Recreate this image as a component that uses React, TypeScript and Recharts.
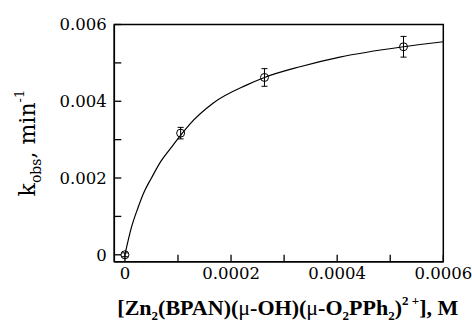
import React from 'react';
import { ComposedChart, Line, Scatter, ErrorBar, XAxis, YAxis, ReferenceArea, Label } from 'recharts';

const pointX = [0, 0.000105, 0.000263, 0.000525];
const pointY = [0, 0.00317, 0.00462, 0.00542];
const pointErr = [0.00005, 0.00015, 0.00023, 0.00027];

const curveX = [0, 0.000012, 0.0000245, 0.000037, 0.00005, 0.000068, 0.000087, 0.000106, 0.000122, 0.000166, 0.000229, 0.000263, 0.00033, 0.000405, 0.000525, 0.0006];
const curveY = [0, 0.0007, 0.00122, 0.00166, 0.002, 0.00244, 0.00279, 0.00313, 0.0034, 0.00395, 0.00442, 0.00462, 0.0049, 0.00515, 0.00542, 0.00555];

const xTicks = [0, 0.0001, 0.0002, 0.0003, 0.0004, 0.0005, 0.0006];
const xTickLabels = ['0', '', '0.0002', '', '0.0004', '', '0.0006'];
const yTicks = [0, 0.001, 0.002, 0.003, 0.004, 0.005, 0.006];
const yTickLabels = ['0', '', '0.002', '', '0.004', '', '0.006'];

const points = pointX.map((x, i) => ({ x, y: pointY[i], err: pointErr[i] }));
const curve = curveX.map((x, i) => ({ x, y: curveY[i] }));

const X_DOMAIN: [number, number] = [-0.00002, 0.0006];
const Y_DOMAIN: [number, number] = [-0.00018, 0.006];

const tickFont = { fontFamily: 'DejaVu Serif', fontSize: 16.5, fill: '#000' };

const XTitle = (props: any) => {
  const vb = props.viewBox || { x: 0, y: 0, width: 0, height: 0 };
  const cx = vb.x + vb.width / 2 + 9;
  const cy = vb.y + 53;
  const main = 22;
  const small = 13;
  return (
    <text x={cx} y={cy} textAnchor="middle" fontFamily="Liberation Serif" fontWeight="bold" fontSize={main} fill="#000">
      <tspan>[Zn</tspan>
      <tspan fontSize={small} dy={5}>2</tspan>
      <tspan dy={-5}>(BPAN)(</tspan>
      <tspan fontWeight="normal">μ</tspan>
      <tspan>-OH)(</tspan>
      <tspan fontWeight="normal">μ</tspan>
      <tspan>-O</tspan>
      <tspan fontSize={small} dy={5}>2</tspan>
      <tspan dy={-5}>PPh</tspan>
      <tspan fontSize={small} dy={5}>2</tspan>
      <tspan dy={-5}>)</tspan>
      <tspan fontSize={small} dy={-10}>2 +</tspan>
      <tspan dy={10}>], M</tspan>
    </text>
  );
};

const YTitle = (props: any) => {
  const vb = props.viewBox || { x: 0, y: 0, width: 0, height: 0 };
  const cx = 35;
  const cy = vb.y + vb.height / 2;
  return (
    <text x={cx} y={cy} transform={`rotate(-90, ${cx}, ${cy})`} textAnchor="middle" fontFamily="DejaVu Serif" fontSize={22} fill="#000">
      <tspan>k</tspan>
      <tspan fontSize={14} dy={6}>obs</tspan>
      <tspan dy={-6}>, min</tspan>
      <tspan fontSize={13} dy={-11}>-1</tspan>
    </text>
  );
};

const Circle = (props: any) => (
  <circle cx={props.cx} cy={props.cy} r={4} fill="none" stroke="#000" strokeWidth={1} />
);

export default function App() {
  return (
    <div style={{ position: 'absolute', left: 0, top: 0 }}>
      <ComposedChart width={472} height={325} margin={{ top: 24.5, right: 28.7, bottom: 0, left: 0 }}>
        <XAxis
          dataKey="x"
          type="number"
          domain={X_DOMAIN}
          ticks={xTicks}
          allowDataOverflow
          interval={0}
          height={63.3}
          tickSize={-7}
          tickMargin={13}
          tick={tickFont}
          tickFormatter={(v: number, i: number) => xTickLabels[i] ?? ''}
          axisLine={{ stroke: '#000', strokeWidth: 1.5 }}
          tickLine={{ stroke: '#000', strokeWidth: 1.3 }}
        >
          <Label content={XTitle} />
        </XAxis>
        <YAxis
          dataKey="y"
          type="number"
          domain={Y_DOMAIN}
          ticks={yTicks}
          allowDataOverflow
          interval={0}
          width={114.3}
          tickSize={-7}
          tickMargin={14.5}
          tick={tickFont}
          tickFormatter={(v: number, i: number) => yTickLabels[i] ?? ''}
          axisLine={{ stroke: '#000', strokeWidth: 1.5 }}
          tickLine={{ stroke: '#000', strokeWidth: 1.3 }}
        >
          <Label content={YTitle} />
        </YAxis>
        <ReferenceArea x1={X_DOMAIN[0]} x2={X_DOMAIN[1]} y1={Y_DOMAIN[0]} y2={Y_DOMAIN[1]} fill="none" stroke="#000" strokeWidth={1.5} fillOpacity={0} ifOverflow="extendDomain" />
        <Line data={curve} dataKey="y" type="monotone" stroke="#000" strokeWidth={1.2} dot={false} isAnimationActive={false} />
        <Scatter data={points} dataKey="y" shape={Circle} isAnimationActive={false}>
          <ErrorBar dataKey="err" direction="y" width={3} stroke="#000" strokeWidth={1} />
        </Scatter>
      </ComposedChart>
    </div>
  );
}
